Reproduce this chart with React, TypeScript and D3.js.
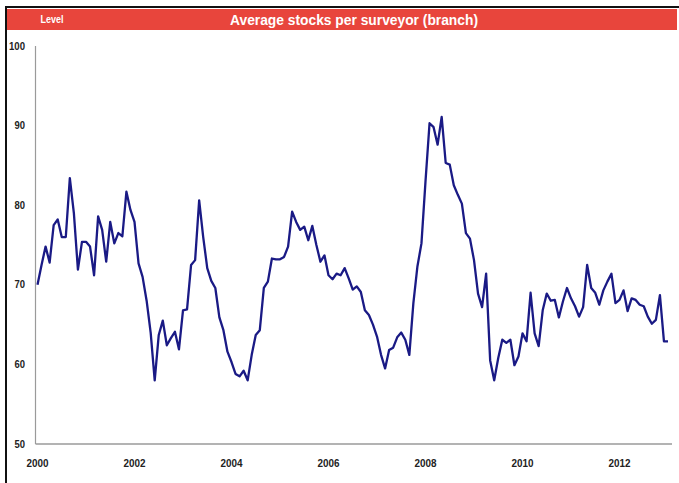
import React from "react";
import * as d3 from "d3";

const title = "Average stocks per surveyor (branch)";
const unitLabel = "Level";
const startYear = 2000;
const yTicks = [50, 60, 70, 80, 90, 100];
const xTickYears = [2000, 2002, 2004, 2006, 2008, 2010, 2012];

// monthly values from Jan 2000 to Jan 2013
const values = [
  70.0, 72.5, 74.8, 72.8, 77.5, 78.2, 76.0, 76.0, 83.4, 79.0, 71.9, 75.4,
  75.4, 74.8, 71.2, 78.6, 76.9, 72.9, 77.9, 75.2, 76.5, 76.1, 81.7, 79.4,
  77.9, 72.7, 71.0, 68.0, 64.0, 58.0, 63.7, 65.5, 62.4, 63.3, 64.1, 61.9,
  66.8, 66.9, 72.5, 73.1, 80.6, 76.0, 72.1, 70.5, 69.6, 65.9, 64.3, 61.6,
  60.3, 58.8, 58.5, 59.2, 58.0, 61.2, 63.7, 64.3, 69.6, 70.4, 73.3, 73.2,
  73.2, 73.5, 74.8, 79.2, 77.9, 76.9, 77.3, 75.6, 77.4, 75.0, 72.9, 73.7,
  71.2, 70.7, 71.4, 71.2, 72.1, 70.8, 69.4, 69.8, 69.1, 66.8, 66.2, 65.0,
  63.5, 61.2, 59.5, 61.8, 62.1, 63.4, 64.0, 63.1, 61.2, 67.7, 72.3, 75.2,
  83.0, 90.3, 89.8, 87.6, 91.1, 85.3, 85.1, 82.5, 81.3, 80.2, 76.5, 75.8,
  73.1, 68.9, 67.2, 71.4, 60.5, 58.0, 60.8, 63.1, 62.7, 63.1, 59.9, 61.0,
  63.9, 62.9, 69.0, 63.9, 62.3, 66.8, 68.9, 68.0, 68.1, 65.9, 67.9, 69.6,
  68.3, 67.3, 66.0, 67.2, 72.5, 69.6, 69.0, 67.5, 69.3, 70.4, 71.4, 67.7,
  68.1, 69.3, 66.7, 68.3, 68.1, 67.5, 67.3, 66.0, 65.1, 65.6, 68.7, 62.9,
  62.9,
];

const W = 679;
const H = 483;
const plotLeft = 37.5;
const plotTop = 46;
const plotBottom = 444;
const pxPerYear = 48.5;

export default function App() {
  // x scale in months since Jan 2000
  const x = d3
    .scaleLinear()
    .domain([0, 12])
    .range([plotLeft, plotLeft + pxPerYear]);
  const y = d3.scaleLinear().domain([50, 100]).range([plotBottom, plotTop]);
  const lineGen = d3
    .line<number>()
    .x((_, i) => x(i))
    .y((d) => y(d));
  const labelFont = "'Liberation Sans', Arial, sans-serif";

  return (
    <svg
      width={W}
      height={H}
      style={{ position: "absolute", left: 0, top: 0, background: "#fff" }}
    >
      <rect x={0} y={0} width={W} height={H} fill="#fff" />
      {/* frame */}
      <line x1={5} x2={W} y1={7} y2={7} stroke="#111" strokeWidth={2} />
      <line x1={6} x2={6} y1={6} y2={H} stroke="#111" strokeWidth={2} />
      {/* header */}
      <rect x={7} y={9} width={W - 9} height={21} fill="#e8453c" />
      <text
        x={52}
        y={23}
        fill="#fff"
        fontFamily={labelFont}
        fontWeight="bold"
        fontSize={10}
        textAnchor="middle"
        textLength={23}
        lengthAdjust="spacingAndGlyphs"
      >
        {unitLabel}
      </text>
      <text
        x={354}
        y={25}
        fill="#fff"
        fontFamily={labelFont}
        fontWeight="bold"
        fontSize={15}
        textAnchor="middle"
        textLength={248}
        lengthAdjust="spacingAndGlyphs"
      >
        {title}
      </text>
      {/* axes */}
      <line x1={35.5} x2={35.5} y1={plotTop} y2={plotBottom} stroke="#9a9a9a" strokeWidth={1.2} />
      <line x1={35.5} x2={672} y1={plotBottom} y2={plotBottom} stroke="#9a9a9a" strokeWidth={1.5} />
      {yTicks.map((t) => (
        <text
          key={t}
          x={25}
          y={y(t) + 3.5}
          textAnchor="end"
          fontFamily={labelFont}
          fontWeight="bold"
          fontSize={10.5}
          fill="#222"
          textLength={t >= 100 ? 16 : 10.5}
          lengthAdjust="spacingAndGlyphs"
        >
          {t}
        </text>
      ))}
      {xTickYears.map((yr) => (
        <text
          key={yr}
          x={x((yr - startYear) * 12)}
          y={467}
          textAnchor="middle"
          fontFamily={labelFont}
          fontWeight="bold"
          fontSize={10.5}
          fill="#222"
          textLength={22}
          lengthAdjust="spacingAndGlyphs"
        >
          {yr}
        </text>
      ))}
      <path
        d={lineGen(values) || ""}
        fill="none"
        stroke="#1a1a85"
        strokeWidth={2.3}
        strokeLinejoin="round"
      />
    </svg>
  );
}
